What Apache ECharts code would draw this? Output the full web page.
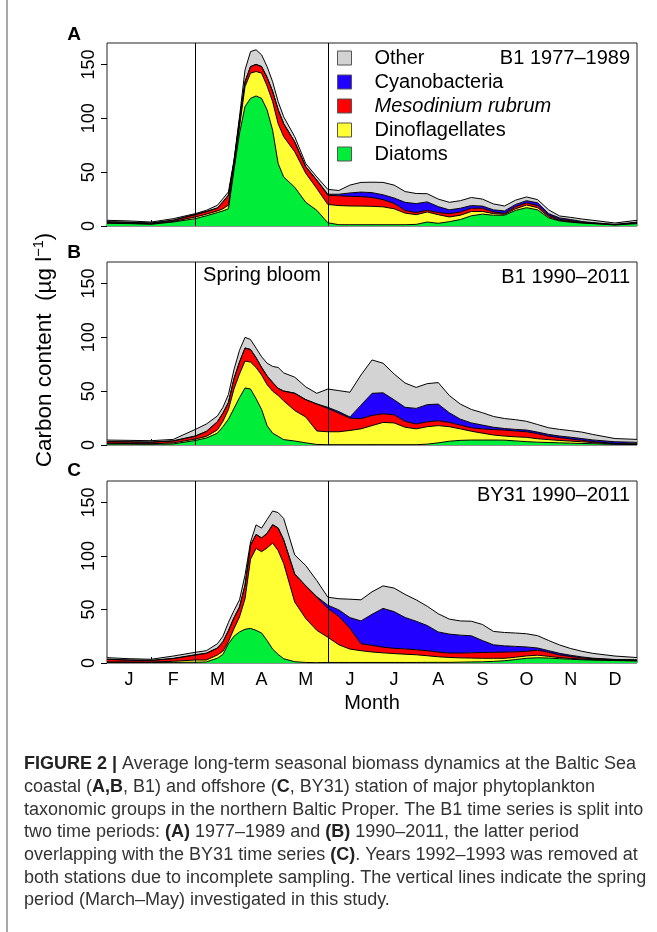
<!DOCTYPE html>
<html>
<head>
<meta charset="utf-8">
<script src="https://cdn.jsdelivr.net/npm/echarts@6/dist/echarts.min.js"></script>
<style>
  html, body { margin: 0; padding: 0; background: #fff; }
  #chart { width: 657px; height: 932px; }
</style>
</head>
<body>
<div id="chart"></div>
<script>
// Month initials shown under the bottom panel (label at the middle of each month)
const monthLabels = ['J', 'F', 'M', 'A', 'M', 'J', 'J', 'A', 'S', 'O', 'N', 'D'];
const yTicks = [0, 50, 100, 150];

// Sampling times in months since 1 January (denser during the spring bloom)
const samplePos = [0, 0.5, 1, 1.5, 2, 2.25, 2.5, 2.625, 2.75, 2.875, 3, 3.125, 3.25, 3.375, 3.5, 3.625, 3.75, 3.875,
  4, 4.25, 4.5, 4.75, 5, 5.25, 5.5, 5.75, 6, 6.25, 6.5, 6.75, 7, 7.25, 7.5, 7.75, 8, 8.25, 8.5, 8.75,
  9, 9.25, 9.5, 9.75, 10, 10.25, 10.5, 10.75, 11, 11.5, 12];

// Carbon content (µg l-1) per taxonomic group
// A: B1 1977-1989
const aDiatoms = [2.5,2.2,1.6,3.7,6.8, 9.5,12.5, 14,16,52, 86,111,118.6,120.8,118.6,107.8,89,58, 45.6,36,22,14.6, 3,1.2,1.2,1.2, 1.2,1.2,1.2,1.2, 1.5,3.7,2.5,4, 6,9.5,11,10, 10,14.5,17,15, 7.5,4.7,3.5,2.7, 2.2,1.0,2.2];
const aDino    = [0.5,0.4,0.4,0.5,1.6, 1.5,1.5, 2,3.3,3, 6,18.5,23.4,22.7,23.4,22.2,26.5,37, 37.4,33,27,20.2, 17,17.8,17.4,17.3, 17.1,16.6,14.8,10.8, 9,9.3,8,4.4, 4,4,2.5,1.5, 0.9,1.5,2.5,2, 1,0.6,0.5,0.3, 0.3,0.1,0.6];
const aMeso    = [0.8,0.7,0.6,1.0,2.2, 2.3,2.5, 6.4,9.3,4.6, 6.4,4.5,6,6.5,6,8,9.5,13, 12,9,6,7.7, 8.6,9,9,8.8, 8.2,6.7,5,2.5, 2,1.6,2,3.1, 3,3,3,1.5, 0.9,2,2,2, 1.5,0.9,1,0.5, 0.3,0.2,0.3];
const aCyano   = [0.2,0.2,0.2,0.3,0.2, 0.3,0.3, 0.2,0.2,0.2, 0.2,0.2,0.2,0.2,0.2,0.2,0.2,0.2, 0.2,0.2,0.2,0.2, 0.9,1.5,3.1,4.2, 4.5,4.5,5,7.5, 8.3,7.8,5.5,3.5, 3.5,2.5,2,2, 2.2,2,2,2.5, 1.5,1.3,1,0.7, 0.3,0.2,0.6];
const aOther   = [1.3,1.2,0.9,1.3,0.7, 1.0,2.5, 2.9,2.9,1.2, 2.9,10.8,13.8,13.5,10.8,9.8,8.8,7.3, 6.3,4.8,2.8,2.9, 4.5,3.5,7.3,9, 9.7,11.5,12,10, 9.4,7.6,7,7, 7,7.5,6.5,5.5, 4.6,4,3.5,3, 3.5,1.8,2,2.3, 2.2,1.3,1.6];

// B: B1 1990-2011
const bDiatoms = [0.9,0.8,0.7,1.0,4.2, 6.5,11, 17,24,34, 44,53,52,43,33,18,11,8, 5,3.7,2,0.5, 0.3,0.3,0.3,0.3, 0.3,0.3,0.3,0.3, 0.3,0.8,2,3.5, 4.3,4.6,4.6,4.6, 4.5,3.8,3.1,2.6, 2.3,2,1.7,1.4, 1.2,0.6,0.5];
const bDino    = [0.6,0.6,0.5,1.0,1.3, 1.5,3, 5,9,18, 22,25,25,29,32,38,39,38, 36,28.3,24,12.5, 12,12,13.2,14.7, 17.7,20.7,20.2,16.2, 14.7,16.2,16,13.5, 10.7,8.2,6.4,4.7, 3.8,3.8,4,3.2, 2.7,2.2,1.9,1.6, 1,0.3,0.2];
const bMeso    = [1.5,1.4,1.4,1.7,2.7, 4.5,7.5, 7.5,6.5,9.5, 11,12,11.6,9,7,8,8,6.5, 9,16,16,25, 21.7,17.2,11.5,9.5, 9.5,8,7.5,5.5, 4.5,4.5,4.5,4, 3.5,3.2,4,5, 5.6,5.4,5.2,4.7, 3.3,2.6,2,1.4, 1,0.6,0.8];
const bCyano   = [0.2,0.2,0.2,0.2,0.2, 0.2,0.2, 0.2,0.2,0.2, 0.2,0.2,0.2,0.2,0.2,0.2,0.2,0.2, 0.2,0.2,0.2,0.2, 1,1.5,1,12.5, 20.5,19.5,14,13, 14.5,16,15.5,9, 5.5,4.5,3.5,2.2, 1.4,1.5,1.6,1.5, 1.5,1.5,1.6,1.6, 1.5,1.5,1];
const bOther   = [1.4,1.3,1.2,1.3,6.1, 6.8,5.3, 5.3,7.3,8.3, 10.8,9.8,9.2,8.8,9.8,11.8,14.8,19.3, 16.8,14.8,11.8,9.8, 17,19.5,23,28, 31,27.5,24,22.5, 19.5,19.5,20,16, 14,12.5,11.5,10, 9.3,9,8.1,7, 6.2,6.2,6.1,6, 5.1,3,2.7];

// C: BY31 1990-2011
const cDiatoms = [0.6,0.5,0.5,0.6,0.7, 1,4.5, 8,18,25, 29,31.5,32.3,30.5,28,21,13,8, 4,1.2,0.5,0.3, 0.5,0.5,0.5,0.5, 0.5,0.5,0.5,0.5, 0.5,0.6,0.6,0.6, 0.8,1,1.1,1.5, 2.1,3.2,4.4,4.9, 4.6,4,3.5,3, 2.7,2.3,1.9];
const cDino    = [0.4,0.4,0.4,1.0,2.1, 1.8,3, 3,2,7, 14,28.5,64.7,76.5,76,86.5,99,97, 89,55.8,41,30.2, 23.5,16.5,12.5,11, 9.8,9,8.3,7.7, 7.2,6.2,5.2,4.6, 4,3.6,3.3,2.9, 2.3,2.2,2.2,2.4, 1.6,1,0.8,0.6, 0.4,0.3,0.3];
const cMeso    = [2.4,1.7,1.4,2.5,4.7, 6.2,6.3, 8.8,10,10, 9,12.5,13,13,12.7,13.5,17,21, 22,26,30.5,31, 27,26.5,19.4,6.5, 6.2,5.3,4.9,5, 4.7,4.7,4.4,4.1, 4.5,4.9,5.4,5.6, 5.8,5,4.4,4.7, 3.8,2.5,1.8,1.2, 0.9,0.5,0.6];
const cCyano   = [0.2,0.2,0.2,0.2,0.2, 0.2,0.2, 0.2,0.5,0.5, 0.5,0.5,0.2,0.2,0.2,0.2,0.2,0.2, 0.2,0.2,0.2,0.5, 3,6.1,10,21.3, 29,36.2,34.3,29.3, 26.6,23.5,18.8,17.7, 16.7,15.9,11.2,7, 5.8,5.1,4,2, 1.5,1.5,1.1,0.9, 0.5,0.2,0.1];
const cOther   = [1.4,1.2,1.0,2.2,2.3, 2.3,4, 5,7.5,6.5, 6.5,9,2.8,8.8,9.1,12.8,12.8,14.3, 19.8,17.8,18.8,15, 7.5,10.4,17.2,19.7, 21,21,22,21.5, 20,18,17,14, 13.3,13.6,15,12.5, 12.5,12.5,12.3,11.5, 9.5,7.8,6.3,5.3, 4.5,3.2,2.2];

// Spring period boundaries (1 March and 1 June, in months)
const springLines = [2, 5];

const FONT = '"Liberation Sans", Arial, Helvetica, sans-serif';

// The series run on a (hidden) time axis so that the biomass, not the time, is stacked.
// Month positions are spread linearly over the year so they line up with the month scale.
const T0 = Date.UTC(2001, 0, 1);
const T1 = Date.UTC(2002, 0, 1);
const toTime = m => T0 + (m / 12) * (T1 - T0);

// Stacking order, bottom to top
const groups = [
  { name: 'Diatoms', color: '#00EE3A' },
  { name: 'Dinoflagellates', color: '#FFFF33' },
  { name: 'Mesodinium rubrum', color: '#FF0000' },
  { name: 'Cyanobacteria', color: '#2200FF' },
  { name: 'Other', color: '#D3D3D3' }
];

const panels = [
  { top: 43,  height: 183, values: [aDiatoms, aDino, aMeso, aCyano, aOther] },
  { top: 262, height: 183, values: [bDiatoms, bDino, bMeso, bCyano, bOther] },
  { top: 481, height: 182, values: [cDiatoms, cDino, cMeso, cCyano, cOther] }
];

const chart = echarts.init(document.getElementById('chart'), null, { renderer: 'canvas' });

const grid = [], xAxis = [], yAxis = [], series = [];
const monthBounds = [1, 2, 3, 4, 5, 6, 7, 8, 9, 10, 11];
const monthMids = monthLabels.map((_, i) => i + 0.5);

panels.forEach((p, i) => {
  grid.push({
    left: 107, width: 530, top: p.top, height: p.height,
    show: true, borderColor: '#222', borderWidth: 1, containLabel: false
  });
  // data axis (time), hidden
  xAxis.push({
    gridIndex: i, type: 'time', min: T0, max: T1, position: 'bottom',
    axisLine: { show: false }, axisTick: { show: false }, axisLabel: { show: false },
    splitLine: { show: false }
  });
  // month scale with tick marks at month boundaries and initials at mid-month
  xAxis.push({
    gridIndex: i, type: 'value', min: 0, max: 12, position: 'bottom',
    axisLine: { show: false },
    axisTick: { show: true, inside: true, length: 6, lineStyle: { color: '#000', width: 1 }, customValues: monthBounds },
    axisLabel: {
      show: i === 2, customValues: monthMids,
      formatter: v => monthLabels[Math.floor(v)],
      fontSize: 18, color: '#000', fontFamily: FONT, margin: 8
    },
    splitLine: { show: false }
  });
  yAxis.push({
    gridIndex: i, type: 'value', min: 0, max: 170,
    axisLine: { show: false },
    axisTick: { show: true, inside: false, length: 6, lineStyle: { color: '#000', width: 1 }, customValues: yTicks },
    axisLabel: { customValues: yTicks, rotate: 90, fontSize: 18, color: '#000', fontFamily: FONT, margin: 9 },
    splitLine: { show: false }
  });
  groups.forEach((g, k) => {
    const s = {
      type: 'line', name: g.name, xAxisIndex: 2 * i, yAxisIndex: i, stack: 'panel' + i,
      data: samplePos.map((m, j) => [toTime(m), p.values[k][j]]),
      symbol: 'none', smooth: false, color: g.color,
      lineStyle: { color: '#000', width: 1 },
      areaStyle: { color: g.color, opacity: 1 },
      emphasis: { disabled: true }, silent: true
    };
    if (k === groups.length - 1) {
      s.markLine = {
        silent: true, symbol: ['none', 'none'], label: { show: false },
        lineStyle: { color: '#000', width: 1, type: 'solid' },
        data: springLines.map(v => ({ xAxis: toTime(v) }))
      };
    }
    series.push(s);
  });
});

const legendOrder = ['Other', 'Cyanobacteria', 'Mesodinium rubrum', 'Dinoflagellates', 'Diatoms'];

function txt(x, y, text, extra) {
  return {
    type: 'text', x: x, y: y, silent: true,
    style: Object.assign({ text: text, fontFamily: FONT, fontSize: 20, fill: '#000', verticalAlign: 'middle', align: 'left' }, extra || {})
  };
}

const captionLines = [
  '{b|FIGURE 2 |} Average long-term seasonal biomass dynamics at the Baltic Sea',
  'coastal ({b|A,B}, B1) and offshore ({b|C}, BY31) station of major phytoplankton',
  'taxonomic groups in the northern Baltic Proper. The B1 time series is split into',
  'two time periods: {b|(A)} 1977–1989 and {b|(B)} 1990–2011, the latter period',
  'overlapping with the BY31 time series {b|(C)}. Years 1992–1993 was removed at',
  'both stations due to incomplete sampling. The vertical lines indicate the spring',
  'period (March–May) investigated in this study.'
];
const captionY = [764, 787, 810, 832, 855, 878, 900];

const graphics = [
  txt(74, 35, 'A', { fontWeight: 'bold', align: 'center', fontSize: 19 }),
  txt(74, 253, 'B', { fontWeight: 'bold', align: 'center', fontSize: 19 }),
  txt(74, 471, 'C', { fontWeight: 'bold', align: 'center', fontSize: 19 }),
  txt(630, 58, 'B1 1977–1989', { align: 'right' }),
  txt(630, 277, 'B1 1990–2011', { align: 'right' }),
  txt(262, 275, 'Spring bloom', { align: 'center' }),
  txt(630, 495, 'BY31 1990–2011', { align: 'right' }),
  txt(372, 703, 'Month', { align: 'center' }),
  {
    type: 'text', x: 44, y: 350, rotation: Math.PI / 2, silent: true,
    style: {
      text: '{n|Carbon content  (µg l}{s|−1}{n|)}',
      align: 'center', verticalAlign: 'middle', fontFamily: FONT, fill: '#000',
      rich: {
        n: { fontSize: 22.5, fontFamily: FONT, fill: '#000', verticalAlign: 'bottom' },
        s: { fontSize: 14.5, fontFamily: FONT, fill: '#000', verticalAlign: 'bottom', padding: [0, 0, 10, 0] }
      }
    }
  },
  { type: 'line', silent: true, shape: { x1: 7, y1: 0, x2: 7, y2: 932 }, style: { stroke: '#555', lineWidth: 1 } }
];
captionLines.forEach((line, i) => {
  graphics.push({
    type: 'text', x: 24, y: captionY[i], silent: true,
    style: {
      text: line, fontFamily: FONT, fontSize: 18, fill: '#333', verticalAlign: 'middle', align: 'left',
      rich: { b: { fontWeight: 'bold', fontSize: 18, fontFamily: FONT, fill: '#222' } }
    }
  });
});

chart.setOption({
  animation: false,
  backgroundColor: '#fff',
  grid: grid, xAxis: xAxis, yAxis: yAxis, series: series,
  legend: {
    data: legendOrder, orient: 'vertical', left: 337, top: 48, padding: 0,
    icon: 'rect', itemWidth: 14, itemHeight: 14, itemGap: 4, selectedMode: false,
    itemStyle: { borderColor: '#555', borderWidth: 1 },
    formatter: name => name === 'Mesodinium rubrum' ? '{i|' + name + '}' : '{n|' + name + '}',
    textStyle: {
      fontSize: 20, color: '#000', fontFamily: FONT,
      rich: {
        n: { fontSize: 20, fontFamily: FONT, color: '#000', padding: [0, 0, 0, 18] },
        i: { fontSize: 20, fontFamily: FONT, color: '#000', fontStyle: 'italic', padding: [0, 0, 0, 18] }
      }
    }
  },
  graphic: graphics
});
</script>
</body>
</html>
